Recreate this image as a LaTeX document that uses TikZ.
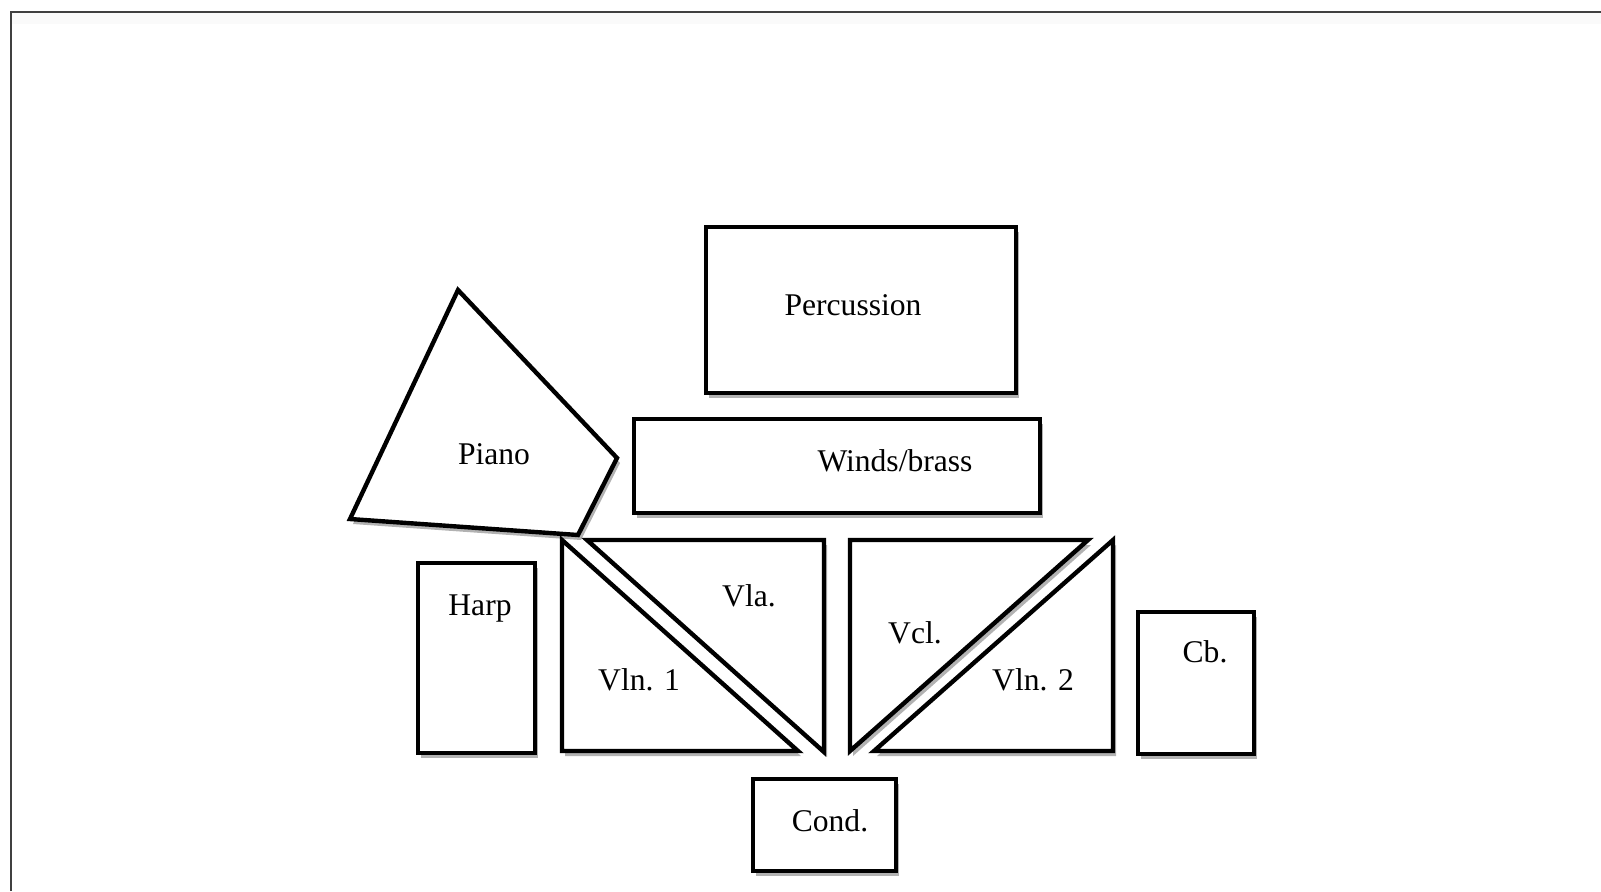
\documentclass[tikz,border=0pt]{standalone}
\usepackage{fontspec}
\setmainfont{Liberation Serif}
\usetikzlibrary{shadows}
\begin{document}
\begin{tikzpicture}[x=0.5pt,y=-0.5pt,
  shp/.style={draw=black,line width=2.2pt,fill=white,line join=miter,
    drop shadow={shadow xshift=1.5pt,shadow yshift=-2.5pt,opacity=0.3,fill=black}},
  lbl/.style={anchor=base,inner sep=0pt,font=\fontsize{15.8}{19}\selectfont}]
\useasboundingbox (0,0) rectangle (1601,891);
% frame
\fill[gray!4] (11,13) rectangle (1601,24);
\draw[line width=1pt,black!75] (10.5,891) -- (10.5,12) -- (1601,12);
% shapes
\path[shp] (706,227) rectangle (1016,393);
\path[shp] (634,419) rectangle (1040,513);
\path[shp] (458,290) -- (617,458) -- (578,535) -- (350,519) -- cycle;
\path[shp] (418,563) rectangle (535,753);
\path[shp] (1138,612) rectangle (1254,754);
\path[shp] (562,540) -- (798,751) -- (562,751) -- cycle;
\path[shp] (587,540) -- (824,540) -- (824,752) -- cycle;
\path[shp] (850,540) -- (1088,540) -- (850,751) -- cycle;
\path[shp] (1113,540) -- (1113,751) -- (874,751) -- cycle;
\path[shp] (753,779) rectangle (896,871);
% labels
\node[lbl] (perc) at (853,315) {Percussion};
\node[lbl] (winds) at (895,471) {Winds/brass};
\node[lbl] (piano) at (494,464) {Piano};
\node[lbl] (harp) at (480,615) {Harp};
\node[lbl] (cb) at (1205,662.5) {Cb.};
\node[lbl] (vla) at (749,606) {Vla.};
\node[lbl] (vln1) at (639,690) {Vln. 1};
\node[lbl] (vcl) at (915,643) {Vcl.};
\node[lbl] (vln2) at (1033,690) {Vln. 2};
\node[lbl] (cond) at (830,831) {Cond.};
\end{tikzpicture}
\end{document}
